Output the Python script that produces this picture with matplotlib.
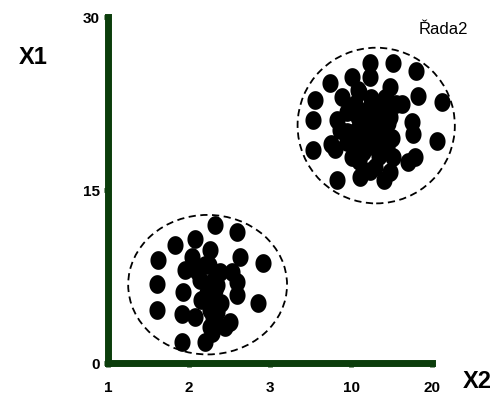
import numpy as np
import matplotlib.pyplot as plt
from matplotlib.patches import Ellipse

plt.rcParams['font.family'] = ['Liberation Sans', 'DejaVu Sans']

# x tick labels (evenly spaced categories)
x_labels = ['1', '2', '3', '10', '20']
y_ticks = [0, 15, 30]

# lower cluster (x given as position between the category ticks)
low_x = [1.32, 1.59, 1.07, 0.83, 0.62, 1.04, 1.26, 1.63, 1.91, 0.95, 1.20, 1.38, 1.53,
         0.60, 0.93, 1.14, 1.22, 1.32, 1.59, 1.59, 1.85, 0.60, 0.91, 1.07, 1.26, 1.35,
         1.26, 1.51, 1.44, 0.91, 1.20, 1.28, 1.22, 1.28, 1.30,
         1.25, 1.35, 1.30, 1.15, 1.40, 1.10]
low_y = [12.0, 11.4, 10.8, 10.2, 8.9, 9.2, 9.8, 9.2, 8.7, 8.1, 8.5, 7.9, 7.9,
         6.9, 6.2, 7.2, 6.1, 6.3, 7.0, 5.9, 5.2, 4.6, 4.3, 4.0, 4.6, 4.4,
         3.1, 3.6, 3.1, 1.8, 1.8, 2.6, 5.5, 7.0, 5.0,
         8.5, 6.8, 4.0, 5.5, 5.2, 8.0]

# upper cluster
up_x = [3.23, 3.52, 3.80, 2.74, 3.01, 3.23, 3.48, 3.83, 2.56, 2.89, 3.09, 3.42, 3.63,
        4.12, 2.53, 2.83, 3.09, 3.27, 3.48, 3.75, 2.86, 3.07, 3.36, 3.77, 4.06, 2.53,
        2.80, 3.01, 3.20, 3.44, 3.52, 3.70, 3.79, 2.83, 3.11, 3.23, 3.40, 3.48, 3.23,
        3.40, 3.15, 3.32,
        3.15, 3.30, 3.20, 3.05, 3.35, 3.10, 2.95, 3.40, 3.25, 3.05, 2.95, 3.50,
        2.95, 3.15, 3.30, 3.45, 3.20, 3.10, 3.55, 2.75]
up_y = [26.0, 26.0, 25.3, 24.3, 24.8, 24.8, 23.9, 23.2, 22.8, 23.1, 23.7, 23.0, 22.5,
        22.6, 21.1, 21.1, 21.3, 21.3, 21.3, 20.9, 20.2, 20.2, 20.2, 19.9, 19.3, 18.5,
        18.6, 17.9, 18.7, 18.7, 17.9, 17.4, 17.9, 15.9, 16.1, 16.7, 15.9, 16.6, 22.2,
        22.2, 19.6, 19.3,
        21.8, 20.5, 19.8, 19.0, 18.0, 17.5, 21.8, 21.8, 23.0, 22.5, 20.0, 19.5,
        19.2, 18.3, 17.0, 20.8, 21.0, 23.5, 22.5, 19.0]

# dashed rings: centre x, centre y, width, height
rings = [(1.23, 6.8, 1.96, 12.1), (3.31, 20.6, 1.94, 13.5)]

green = '#0b3d0b'

# slightly narrow ellipse marker
t = np.linspace(0, 2 * np.pi, 40)
egg = list(zip(0.86 * np.cos(t), np.sin(t)))

fig = plt.figure(figsize=(4.95, 3.99), dpi=100)
ax = fig.add_axes([0.218, 0.090, 0.655, 0.867])

ax.plot(low_x + up_x, low_y + up_y, linestyle='none', marker=egg,
        markersize=13.5, color='black', markeredgewidth=0, clip_on=False)

for cx, cy, w, h in rings:
    ax.add_patch(Ellipse((cx, cy), w, h, fill=False, edgecolor='black',
                         linestyle=(0, (4, 2.5)), linewidth=1.3, clip_on=False))

ax.set_xlim(0, 4)
ax.set_ylim(0, 30)
ax.set_xticks(range(len(x_labels)))
ax.set_xticklabels(x_labels)
ax.set_yticks(y_ticks)

for s in ['top', 'right']:
    ax.spines[s].set_visible(False)
for s in ['left', 'bottom']:
    ax.spines[s].set_color(green)
    ax.spines[s].set_linewidth(5)
    ax.spines[s].set_capstyle('projecting')

ax.tick_params(axis='both', colors=green, length=3, width=3.5, direction='out',
               labelcolor='black', labelsize=11)
ax.tick_params(axis='x', pad=10)
ax.tick_params(axis='y', pad=3)
for lab in ax.get_xticklabels() + ax.get_yticklabels():
    lab.set_fontweight('bold')

fig.text(0.067, 0.855, 'X1', fontsize=17, fontweight='bold', ha='center', va='center')
fig.text(0.964, 0.045, 'X2', fontsize=17, fontweight='bold', ha='center', va='center')
fig.text(0.895, 0.927, 'Řada2', fontsize=12, ha='center', va='center')

fig.savefig('out.png', dpi=100)
